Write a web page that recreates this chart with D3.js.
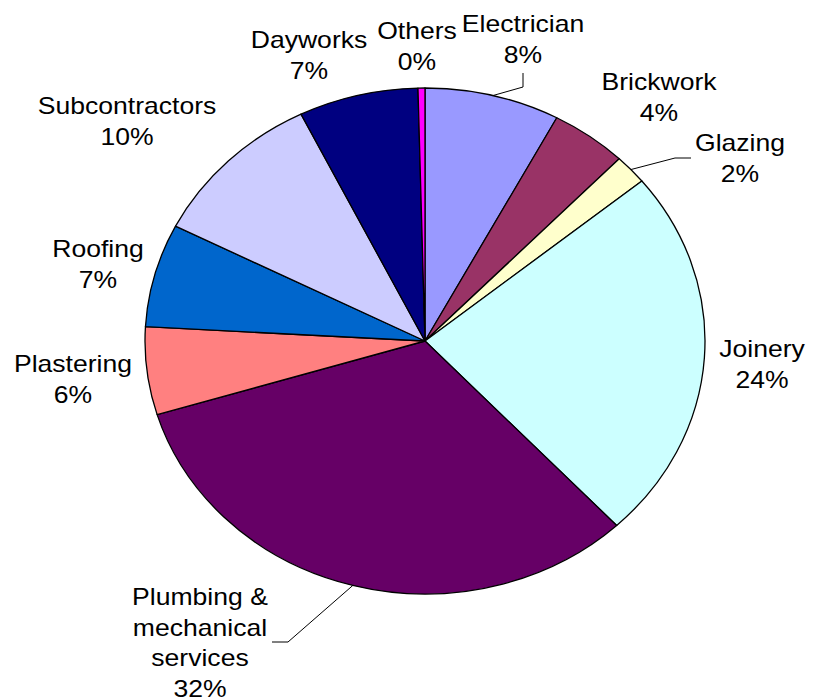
<!DOCTYPE html>
<html>
<head>
<meta charset="utf-8">
<script src="https://cdn.jsdelivr.net/npm/d3@7"></script>
<style>
  html, body { margin: 0; padding: 0; background: #fff; }
  svg { display: block; }
  text { font-family: "Liberation Sans", Arial, sans-serif; fill: #000; }
</style>
</head>
<body>
<svg id="chart" width="813" height="700"></svg>
<script>
// Cost breakdown by trade (percent of total)
const categories = ["Electrician", "Brickwork", "Glazing", "Joinery",
  "Plumbing & mechanical services", "Plastering", "Roofing",
  "Subcontractors", "Dayworks", "Others"];
const values = [7.8, 4.4, 1.9, 23.9, 32.3, 5.6, 6.6, 10.2, 6.9, 0.4];
const colors = ["#9999FF", "#993366", "#FFFFCC", "#CCFFFF", "#660066",
  "#FF8080", "#0066CC", "#CCCCFF", "#000080", "#FF00FF"];
// Label text lines (name split for wrapping)
const labelLines = [["Electrician"], ["Brickwork"], ["Glazing"], ["Joinery"],
  ["Plumbing &", "mechanical", "services"], ["Plastering"], ["Roofing"],
  ["Subcontractors"], ["Dayworks"], ["Others"]];

// Layout: label centre x, first baseline y, and leader elbow/end points
const labelLayout = [
  { x: 523, y: 32, leader: [[523, 87], [523, 73]] },
  { x: 659, y: 90 },
  { x: 740, y: 151, leader: [[675, 158], [691, 158]] },
  { x: 762, y: 357 },
  { x: 200, y: 605, leader: [[288, 642], [272, 642]] },
  { x: 73, y: 372 },
  { x: 98, y: 257 },
  { x: 127, y: 114 },
  { x: 309, y: 48 },
  { x: 417, y: 39 }
];

const W = 813, H = 700;
const cx = 425, cy = 341;
const R = 253;              // vertical radius
const sx = 280 / 253;       // horizontal stretch of the pie
const lineGap = 30.7;
const fontSize = 24;

const svg = d3.select("#chart");
const total = d3.sum(values);

const data = categories.map((c, i) => ({ name: c, value: values[i], color: colors[i],
  lines: labelLines[i], layout: labelLayout[i] }));

const pie = d3.pie().value(d => d.value).sort(null).startAngle(0).endAngle(2 * Math.PI);
const arcs = pie(data);
const arc = d3.arc().innerRadius(0).outerRadius(R);

const pieG = svg.append("g").attr("transform", `translate(${cx},${cy}) scale(${sx},1)`);
pieG.selectAll("path")
  .data(arcs)
  .join("path")
  .attr("d", arc)
  .attr("fill", d => d.data.color)
  .attr("stroke", "#000")
  .attr("stroke-width", 1.3)
  .attr("stroke-linejoin", "round")
  .attr("vector-effect", "non-scaling-stroke");

// Point on the (stretched) pie edge at the slice mid-angle
function edgePoint(d) {
  const a = (d.startAngle + d.endAngle) / 2;
  return [cx + Math.sin(a) * R * sx, cy - Math.cos(a) * R];
}

// Leader lines
const leaderData = arcs.filter(d => d.data.layout.leader);
svg.append("g").selectAll("path")
  .data(leaderData)
  .join("path")
  .attr("d", d => d3.line()([edgePoint(d), ...d.data.layout.leader]))
  .attr("fill", "none")
  .attr("stroke", "#000")
  .attr("stroke-width", 1);

// Labels: name lines then percentage
const labelG = svg.append("g");
arcs.forEach(d => {
  const L = d.data.layout;
  const pct = Math.round(d.data.value / total * 100) + "%";
  const lines = [...d.data.lines, pct];
  const t = labelG.append("text")
    .attr("transform", `translate(${L.x},${L.y}) scale(${sx},1)`)
    .attr("text-anchor", "middle")
    .attr("font-size", fontSize);
  lines.forEach((ln, i) => {
    t.append("tspan").attr("x", 0).attr("y", i * lineGap).text(ln);
  });
});
</script>
</body>
</html>
